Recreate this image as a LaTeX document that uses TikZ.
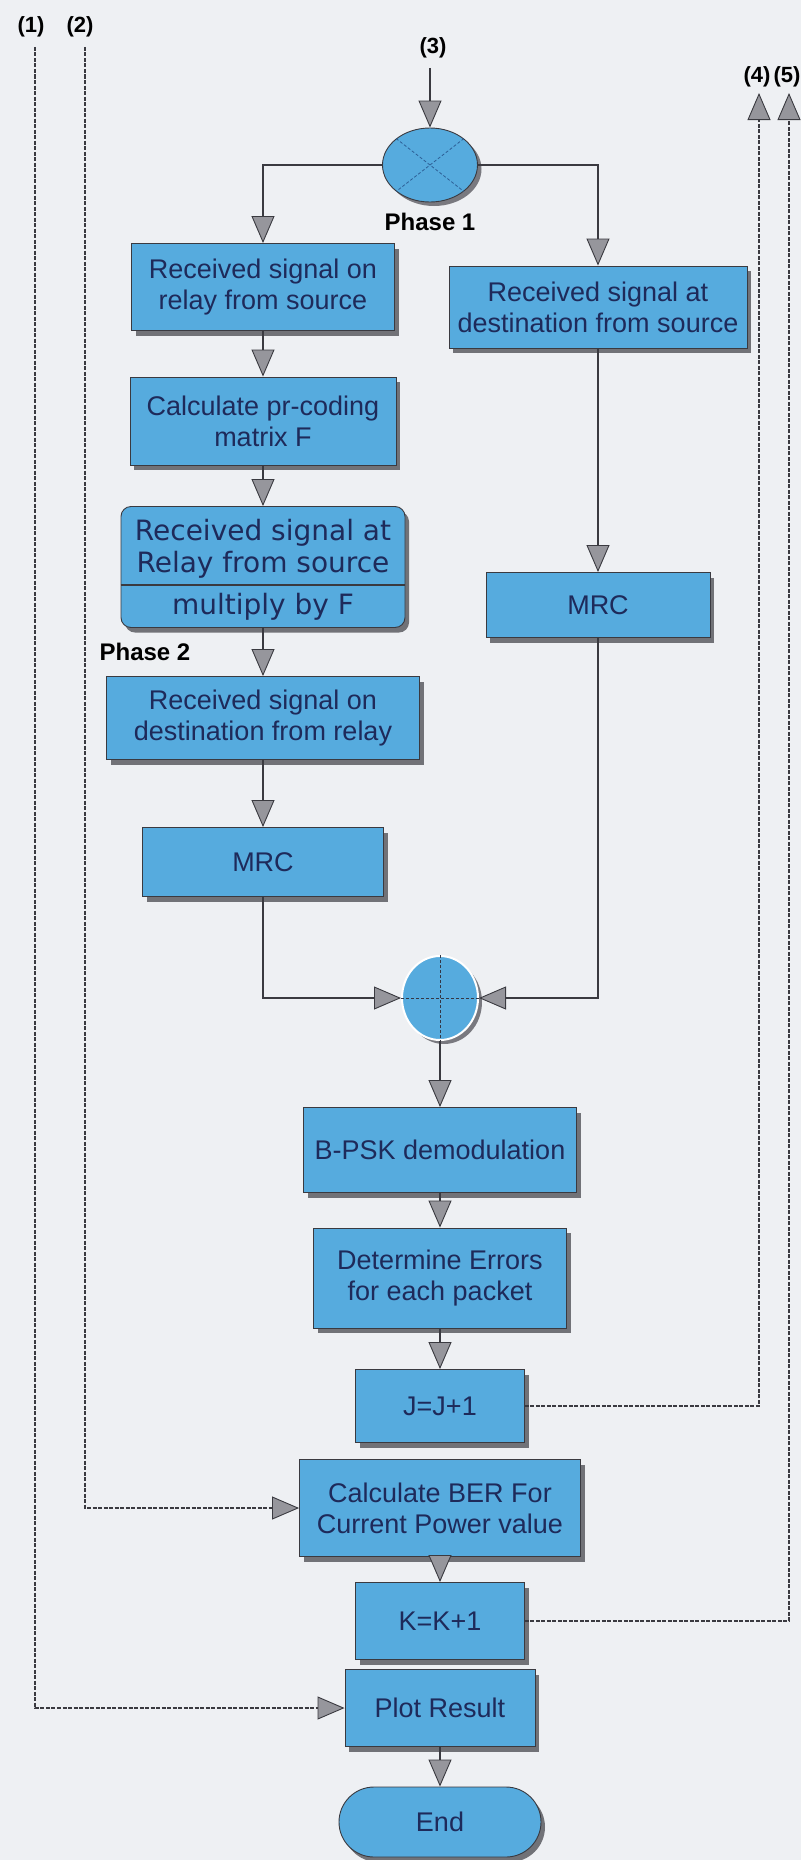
\documentclass[tikz,border=0pt]{standalone}
\usepackage{fontspec}
\setmainfont{Liberation Sans}
\newfontfamily\widefont{DejaVu Sans}
\usetikzlibrary{arrows.meta,shapes.geometric,shadows}

\definecolor{paper}{RGB}{238,240,243}
\definecolor{boxblue}{RGB}{86,171,222}
\definecolor{navy}{RGB}{30,42,90}
\definecolor{edgegray}{RGB}{58,58,64}
\definecolor{tipgray}{RGB}{150,150,156}
\definecolor{shade}{RGB}{92,92,98}
\definecolor{crossblue}{RGB}{45,95,150}

\begin{document}
\begin{tikzpicture}[x=1pt,y=-1pt,
  txt/.style={font=\fontsize{27}{31}\selectfont, text=navy},
  proc/.style={txt, rectangle, draw=edgegray, line width=0.9pt, fill=boxblue,
    align=center, inner sep=0pt,
    drop shadow={shadow xshift=4pt, shadow yshift=-5pt, fill=shade, opacity=0.85}},
  lab/.style={font=\fontsize{22}{26}\selectfont\bfseries, text=black, inner sep=0pt},
  phase/.style={font=\fontsize{24}{28}\selectfont\bfseries, text=black, inner sep=0pt},
  arrowtip/.style={-{Triangle[width=23pt,length=27pt,fill=tipgray,line width=0.9pt]}},
  flow/.style={draw=edgegray, line width=2.6pt, arrowtip},
  loopback/.style={draw=edgegray, line width=2.8pt, dash pattern=on 4pt off 1.5pt, arrowtip},
  junction/.style={ellipse, fill=boxblue, inner sep=0pt,
    drop shadow={shadow xshift=4pt, shadow yshift=-4pt, fill=shade, opacity=0.8}}
]
% paper
\fill[paper] (0,0) rectangle (801,1860);
\useasboundingbox (0,0) rectangle (801,1860);

% loop labels and free ends
\node[lab] (l1) at (31,27) {(1)};
\node[lab] (l2) at (80,27) {(2)};
\node[lab] (l3) at (433,48) {(3)};
\node[lab] (l4) at (757,77) {(4)};
\node[lab] (l5) at (787,77) {(5)};
\coordinate (s1) at (35,47);
\coordinate (s2) at (85,47);
\coordinate (s3) at (430,68);
\coordinate (t4) at (759,93);
\coordinate (t5) at (789,93);

% phase 1: split
\node[junction, draw=edgegray, line width=0.9pt, minimum width=95pt, minimum height=74pt] (mult) at (430,165) {};
\draw[crossblue, densely dashed, line width=0.8pt]
  (mult.north west) -- (mult.south east) (mult.north east) -- (mult.south west);
\node[phase] (ph1) at (430,222) {Phase 1};

% relay branch
\node[proc, minimum width=263pt, minimum height=87pt] (rs) at (263,287)
  {Received signal on\\relay from source};
\node[proc, minimum width=266pt, minimum height=88pt] (pc) at (263,421)
  {Calculate pr-coding\\matrix F};
\node[proc, rounded corners=10pt, minimum width=284pt, minimum height=121pt] (rm) at (263,567) {};
\draw[edgegray, line width=1.4pt] (rm.west |- 0,585) -- (rm.east |- 0,585);
\node[txt, align=center, inner sep=0pt, font=\widefont\fontsize{28}{32}\selectfont] (rmtop) at (263,549)
  {Received signal at\\Relay from source};
\node[txt, inner sep=0pt, font=\widefont\fontsize{28}{32}\selectfont] (rmbot) at (263,607) {multiply by F};
\node[phase] (ph2) at (145,652) {Phase 2};
\node[proc, minimum width=313pt, minimum height=83pt] (dr) at (263,718)
  {Received signal on\\destination from relay};
\node[proc, minimum width=241pt, minimum height=69pt] (mrcl) at (263,862) {MRC};

% direct branch
\node[proc, minimum width=298pt, minimum height=82pt] (ds) at (598,307)
  {Received signal at\\destination from source};
\node[proc, minimum width=224pt, minimum height=65pt] (mrcr) at (598,605) {MRC};

% combining
\node[junction, draw=white, line width=2pt, minimum width=76pt, minimum height=84pt] (sum) at (440,998) {};
\draw[edgegray!80!navy, densely dashed, line width=0.9pt]
  (sum.north) -- (sum.south) (sum.west) -- (sum.east);

% detection and loops
\node[proc, minimum width=273pt, minimum height=85pt] (bpsk) at (440,1150) {B-PSK demodulation};
\node[proc, minimum width=253pt, minimum height=100pt] (det) at (440,1278)
  {Determine Errors\\for each packet};
\node[proc, minimum width=169pt, minimum height=73pt] (jj) at (440,1406) {J=J+1};
\node[proc, minimum width=281pt, minimum height=97pt] (ber) at (440,1508)
  {Calculate BER For\\Current Power value};
\node[proc, minimum width=169pt, minimum height=77pt] (kk) at (440,1621) {K=K+1};
\node[proc, minimum width=190pt, minimum height=77pt] (plot) at (440,1708) {Plot Result};
\node[proc, rounded corners=35pt, minimum width=202pt, minimum height=70pt] (endn) at (440,1822) {End};

% connectors
\draw[flow] (s3) -- (mult.north);
\draw[flow] (mult.west) -| (rs.north);
\draw[flow] (mult.east) -| (ds.north);
\draw[flow] (rs) -- (pc);
\draw[flow] (pc) -- (rm);
\draw[flow] (rm) -- (dr);
\draw[flow] (dr) -- (mrcl);
\draw[flow] (ds) -- (mrcr);
\draw[flow] (mrcl.south) |- (sum.west);
\draw[flow] (mrcr.south) |- (sum.east);
\draw[flow] (sum) -- (bpsk);
\draw[flow] (bpsk) -- (det);
\draw[flow] (det) -- (jj);
\draw[flow] (ber) -- (kk);
\draw[flow] (plot) -- (endn);

\draw[loopback] (jj.east) -| (t4);
\draw[loopback] (kk.east) -| (t5);
\draw[loopback] (s1) |- (plot.west);
\draw[loopback] (s2) |- (ber.west);
\end{tikzpicture}
\end{document}
